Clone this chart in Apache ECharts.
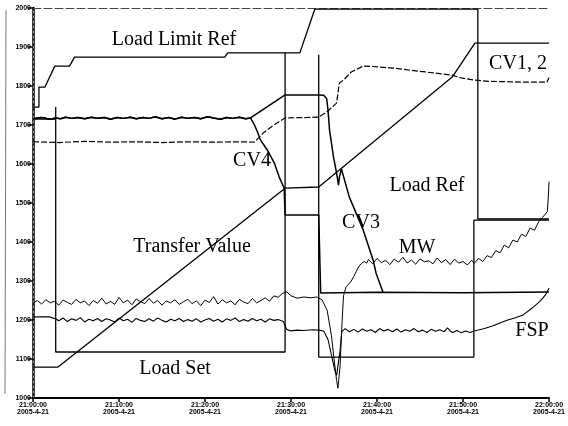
<!DOCTYPE html>
<html><head><meta charset="utf-8">
<script src="https://cdn.jsdelivr.net/npm/echarts/dist/echarts.min.js"></script>
<style>html,body{margin:0;padding:0;background:#fff}#c{width:568px;height:426px}</style>
</head><body><div id="c"></div>
<script>
// tick labels
const timeLabels = ['21:00:00','21:10:00','21:20:00','21:30:00','21:40:00','21:50:00','22:00:00'];
const dateLabel = '2005-4-21';
const yMin = 1000, yMax = 2000, yStep = 100;

// [minute, value]
const loadLimitRef = [[0,1746],[0.69,1746],[0.69,1797],[1.38,1797],[2.53,1851],[4.25,1851],[4.83,1874],[22.3,1874],[22.64,1885],[31.03,1885],[32.76,1997],[51.72,1997],[51.72,1459],[60,1459]];
const loadSet = [[0,1715],[2.64,1715],[2.64,1746],[2.64,1118],[29.31,1118],[29.31,1885],[31,'-'],[33.22,1880],[33.22,1105],[51.26,1105],[51.26,1456],[60,1456]];
const loadRef = [[0,1079],[2.87,1079],[29.31,1538],[33.22,1541],[39.89,1662],[48.74,1823],[51.38,1910],[60,1910]];
const cvCommon = [[0,1716],[1,1719],[2,1715],[2.64,1718],[3.2,1716],[3.8,1720],[4.5,1717],[5.2,1719],[6,1716],[6.8,1720],[7.5,1717],[8.3,1719],[9,1715],[9.8,1719],[10.5,1717],[11.3,1720],[12,1716],[12.8,1719],[13.5,1717],[14.2,1721],[15,1716],[15.8,1719],[16.5,1715],[17.3,1720],[18,1717],[18.8,1719],[19.5,1716],[20.3,1721],[21,1718],[21.8,1715],[22.5,1719],[23.2,1717],[24,1720],[24.7,1716],[25.29,1718]];
const cv4Tail = [[25.75,1700],[26.1,1682],[26.44,1662],[27.24,1636],[28.05,1603],[28.62,1567],[29.2,1538],[29.31,1538],[29.31,1469],[33.22,1469],[33.45,1269],[40,1271],[50,1270],[60,1272]];
const cv3Tail = [[29.31,1777],[33.22,1777],[33.8,1776],[34.14,1768],[34.3,1738],[34.48,1687],[34.94,1618],[35.29,1577],[35.52,1546],[35.63,1567],[35.86,1587],[36.78,1515],[38.39,1431],[39.54,1354],[39.89,1320],[40.69,1272]];
const cv12 = [[0,1657],[3,1655],[6,1658],[9,1656],[12,1657],[15,1655],[18,1657],[21,1656],[24,1657],[25.75,1656],[26.8,1680],[28,1700],[29.31,1718],[33.22,1720],[34.14,1733],[35.29,1756],[35.63,1808],[36.09,1815],[37.01,1836],[38.39,1851],[39.5,1850],[41.84,1846],[43.7,1841],[45.63,1836],[47.5,1831],[48.74,1828],[49.9,1820],[51.38,1815],[53,1812],[55,1811],[57,1810],[59.77,1810],[60,1822]];
const mw = [[0,1243],[0.5,1250],[1,1241],[1.5,1252],[2,1244],[2.5,1248],[3,1238],[3.5,1251],[4,1245],[4.5,1240],[5,1253],[5.5,1244],[6,1249],[6.5,1237],[7,1250],[7.5,1243],[8,1256],[8.5,1241],[9,1248],[9.5,1240],[10,1258],[10.5,1244],[11,1251],[11.5,1239],[12,1254],[12.5,1247],[13,1242],[13.5,1255],[14,1243],[14.5,1250],[15,1238],[15.5,1249],[16,1244],[16.5,1252],[17,1240],[17.5,1247],[18,1253],[18.5,1242],[19,1249],[19.5,1237],[20,1251],[20.5,1245],[21,1260],[21.5,1241],[22,1252],[22.5,1244],[23,1249],[23.5,1239],[24,1253],[24.5,1246],[25,1242],[25.5,1255],[26,1244],[26.5,1250],[27,1257],[27.5,1248],[28,1262],[28.5,1258],[29,1268],[29.5,1272],[30,1262],[30.7,1256],[31.5,1259],[32.3,1257],[33,1259],[33.6,1252],[34.2,1225],[34.7,1160],[35,1100],[35.3,1045],[35.45,1025],[35.7,1080],[35.9,1180],[36.1,1262],[36.4,1285],[36.7,1292],[37,1300],[37.3,1312],[37.6,1325],[37.9,1338],[38.2,1345],[38.5,1350],[38.8,1346],[39,1355],[39.5,1344],[40,1358],[40.5,1347],[41,1353],[41.5,1342],[42,1356],[42.5,1348],[43,1361],[43.5,1346],[44,1354],[44.5,1343],[45,1357],[45.5,1349],[46,1352],[46.5,1344],[47,1359],[47.5,1347],[48,1355],[48.5,1342],[49,1356],[49.5,1346],[50,1350],[50.5,1341],[51,1353],[51.3,1345],[51.8,1358],[52.3,1350],[52.8,1365],[53.3,1360],[53.8,1378],[54.3,1372],[54.8,1392],[55.3,1385],[55.8,1405],[56.3,1400],[56.8,1420],[57.3,1414],[57.8,1436],[58.3,1430],[58.8,1452],[59.2,1462],[59.5,1470],[59.8,1478],[59.9,1510],[60,1555]];
const fsp = [[0,1208],[1.9,1208],[2.6,1203],[3,1198],[3.5,1205],[4,1196],[4.5,1203],[5,1199],[5.5,1206],[6,1195],[6.5,1202],[7,1198],[7.5,1204],[8,1196],[8.5,1203],[9,1200],[9.5,1195],[10,1205],[10.5,1198],[11,1202],[11.5,1194],[12,1204],[12.5,1199],[13,1196],[13.5,1203],[14,1197],[14.5,1205],[15,1199],[15.5,1195],[16,1202],[16.5,1198],[17,1204],[17.5,1196],[18,1201],[18.5,1197],[19,1203],[19.5,1195],[20,1200],[20.5,1204],[21,1197],[21.5,1202],[22,1195],[22.5,1203],[23,1199],[23.5,1205],[24,1196],[24.5,1201],[25,1197],[25.5,1204],[26,1198],[26.5,1202],[27,1195],[27.5,1203],[28,1199],[28.5,1201],[29.1,1196],[29.5,1176],[30,1172],[30.7,1174],[31.5,1173],[32.5,1175],[33.2,1174],[33.8,1172],[34.3,1150],[34.8,1100],[35.1,1070],[35.3,1058],[35.5,1062],[35.7,1120],[35.9,1170],[36.3,1178],[36.8,1170],[37.3,1176],[37.8,1169],[38.3,1177],[38.8,1171],[39.3,1175],[39.8,1168],[40.3,1178],[40.8,1172],[41.3,1176],[41.8,1170],[42.3,1177],[42.8,1169],[43.3,1175],[43.8,1171],[44.3,1178],[44.8,1170],[45.3,1174],[45.8,1168],[46.3,1176],[46.8,1171],[47.3,1175],[47.8,1170],[48.2,1180],[48.5,1172],[48.8,1168],[49.3,1173],[49.8,1167],[50.3,1172],[50.8,1168],[51.3,1172],[52.5,1178],[53.5,1185],[54.5,1194],[55.2,1200],[56,1205],[57,1213],[58,1230],[59,1249],[59.6,1265],[60,1282]];

const txtFont = '20px "Liberation Serif"';
const labels = [
  ['Load Limit Ref', 174, 40], ['CV1, 2', 518, 64], ['CV4', 252, 161], ['Transfer Value', 192, 247],
  ['Load Ref', 427, 186], ['CV3', 361, 223], ['MW', 417, 248], ['FSP', 532, 331], ['Load Set', 175, 369]
];

function line(name, data, w, type) {
  return { name, type: 'line', data, showSymbol: false, symbol: 'none', animation: false, connectNulls: false,
    lineStyle: { color: '#000', width: w, type: type || 'solid' } };
}

const chart = echarts.init(document.getElementById('c'), null, { renderer: 'canvas' });
chart.setOption({
  animation: false,
  backgroundColor: '#fff',
  grid: { left: 33, right: 13, top: 8, bottom: 28 },
  xAxis: [{
    type: 'value', min: 0, max: 60, interval: 10,
    axisLine: { lineStyle: { color: '#000', width: 2 } },
    axisTick: { show: true, length: 4, lineStyle: { color: '#000', width: 1.5 } },
    axisLabel: { fontSize: 7, fontWeight: 'bold', color: '#000', lineHeight: 7, margin: 4,
      formatter: v => timeLabels[Math.round(v / 10)] + '\n' + dateLabel },
    splitLine: { show: false }
  }, {
    type: 'value', min: 0, max: 60, position: 'top',
    axisLine: { show: true, lineStyle: { color: '#444', width: 1, type: [8, 3] } },
    axisTick: { show: false }, axisLabel: { show: false }, splitLine: { show: false }
  }],
  yAxis: [{
    type: 'value', min: yMin, max: yMax, interval: yStep,
    axisLine: { show: true, lineStyle: { color: '#000', width: 2.5 } },
    axisTick: { show: true, length: 5, lineStyle: { color: '#000', width: 1.5 } },
    axisLabel: { fontSize: 7, fontWeight: 'bold', color: '#000', margin: 2, formatter: v => String(v) },
    splitLine: { show: false }
  }, {
    type: 'value', min: yMin, max: yMax, position: 'right',
    axisLine: { show: true, lineStyle: { color: '#999', width: 1, type: [2, 3] } },
    axisTick: { show: false }, axisLabel: { show: false }, splitLine: { show: false }
  }],
  series: [
    line('Load Limit Ref', loadLimitRef, 1.3),
    line('Load Set', loadSet, 1.3),
    line('Load Ref', loadRef, 1.3),
    line('CV4', cvCommon.concat(cv4Tail), 1.5),
    line('CV3', cvCommon.concat(cv3Tail), 1.5),
    line('CV1, 2', cv12, 1.2, [6, 2]),
    line('MW', mw, 1),
    line('FSP', fsp, 1.1)
  ],
  graphic: labels.map(l => ({
    type: 'text', x: l[1], y: l[2], z: 100,
    style: { text: l[0], font: txtFont, fill: '#000', align: 'center', verticalAlign: 'middle' }
  })).concat([{ type: 'line', shape: { x1: 6, y1: 10, x2: 5, y2: 394 }, style: { stroke: '#777', lineWidth: 1 } }])
});
</script>
</body></html>
